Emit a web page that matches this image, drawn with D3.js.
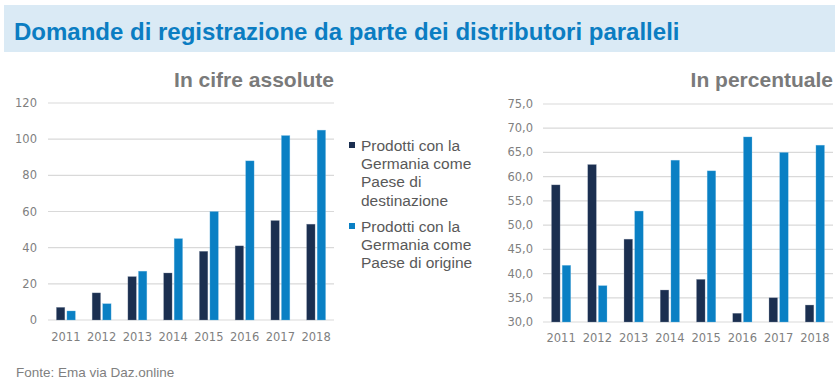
<!DOCTYPE html>
<html>
<head>
<meta charset="utf-8">
<script src="https://cdn.jsdelivr.net/npm/d3@7"></script>
<style>
  body { margin: 0; background: #fff; }
  svg { display: block; }
</style>
</head>
<body>
<div id="chart"></div>
<script>
'use strict';

// Data
var years = ['2011', '2012', '2013', '2014', '2015', '2016', '2017', '2018'];
var seriesNames = ['Prodotti con la Germania come Paese di destinazione',
                   'Prodotti con la Germania come Paese di origine'];
var absDestinazione = [7, 15, 24, 26, 38, 41, 55, 53];
var absOrigine = [5, 9, 27, 45, 60, 88, 102, 105];
var pctDestinazione = [58.3, 62.5, 47.1, 36.6, 38.8, 31.8, 35.0, 33.5];
var pctOrigine = [41.7, 37.5, 52.9, 63.4, 61.2, 68.2, 65.0, 66.5];
var absTicks = [0, 20, 40, 60, 80, 100, 120];
var pctTicks = [30, 35, 40, 45, 50, 55, 60, 65, 70, 75];

var colors = ['#1b2f50', '#0a80c4'];
var W = 840, H = 384;

var itLocale = d3.formatLocale({decimal: ',', thousands: '.', grouping: [3], currency: ['€', '']});
var fmtPct = itLocale.format('.1f');

var svg = d3.select('#chart').append('svg')
  .attr('width', W).attr('height', H)
  .style('font-family', '"Liberation Sans", Arial, sans-serif');

// Header band
svg.append('rect')
  .attr('x', 4).attr('y', 5).attr('width', 831).attr('height', 47)
  .attr('fill', '#daeaf5');

svg.append('text')
  .attr('x', 14).attr('y', 39.5)
  .attr('fill', '#0b7dc2')
  .style('font-size', '24px').style('font-weight', 'bold')
  .text('Domande di registrazione da parte dei distributori paralleli');

// Generic grouped bar panel
function panel(opts) {
  var x = d3.scaleBand().domain(years)
    .range([opts.x0, opts.x1])
    .paddingInner(0.47).paddingOuter(0.235);
  var xs = d3.scaleBand().domain([0, 1])
    .range([0, x.bandwidth()])
    .paddingInner(0.2);
  var y = d3.scaleLinear().domain(opts.domain).range([opts.yBottom, opts.yTop]);

  var g = svg.append('g');

  // gridlines
  g.selectAll('line.grid').data(opts.ticks).enter().append('line')
    .attr('class', 'grid')
    .attr('x1', opts.x0).attr('x2', opts.x1)
    .attr('y1', function(d){ return y(d) }).attr('y2', function(d){ return y(d) })
    .attr('stroke', '#d9d9d9').attr('stroke-width', 1.2);

  // y labels
  g.selectAll('text.ylab').data(opts.ticks).enter().append('text')
    .attr('class', 'ylab')
    .attr('x', opts.labelX)
    .attr('y', function(d){ return y(d) })
    .attr('dy', '0.35em')
    .attr('text-anchor', 'end')
    .attr('fill', '#7f7f7f')
    .style('font-family', '"DejaVu Sans", Verdana, sans-serif')
    .style('font-size', '11.5px')
    .text(opts.format);

  // x labels
  var xAxis = d3.axisBottom(x).tickSize(0).tickPadding(0);
  var ax = g.append('g')
    .attr('transform', 'translate(0,' + opts.xLabelY + ')')
    .call(xAxis);
  ax.select('.domain').remove();
  ax.selectAll('text')
    .attr('fill', '#7f7f7f')
    .attr('dy', 0).attr('y', 0)
    .style('font-family', '"DejaVu Sans", Verdana, sans-serif')
    .style('font-size', '11.5px');

  // bars
  [opts.a, opts.b].forEach(function(values, si){
    g.selectAll('rect.s' + si).data(values).enter().append('rect')
      .attr('class', 's' + si)
      .attr('x', function(d, i){ return x(years[i]) + xs(si) })
      .attr('width', xs.bandwidth())
      .attr('y', function(d){ return y(d) })
      .attr('height', function(d){ return y(opts.domain[0]) - y(d) })
      .attr('fill', colors[si])
      .attr('stroke', si === 0 ? '#8a97ab' : '#7cc0e6')
      .attr('stroke-width', 0.5)
      .attr('stroke-opacity', 0.6);
  });

  // title
  svg.append('text')
    .attr('x', opts.x1).attr('y', 87)
    .attr('text-anchor', 'end')
    .attr('fill', '#7a7a7a')
    .style('font-size', '21px').style('font-weight', 'bold')
    .text(opts.title);
}

panel({
  x0: 48, x1: 334, yTop: 103, yBottom: 320,
  domain: [0, 120], ticks: absTicks, labelX: 37, xLabelY: 341,
  format: function(d){ return d },
  a: absDestinazione, b: absOrigine,
  title: 'In cifre assolute'
});

panel({
  x0: 543, x1: 833, yTop: 104, yBottom: 322,
  domain: [30, 75], ticks: pctTicks, labelX: 533, xLabelY: 342,
  format: fmtPct,
  a: pctDestinazione, b: pctOrigine,
  title: 'In percentuale'
});

// Legend
var legendLines = [
  ['Prodotti con la', 'Germania come', 'Paese di', 'destinazione'],
  ['Prodotti con la', 'Germania come', 'Paese di origine']
];
var legendTop = [151, 232];
var legend = svg.append('g');
legendLines.forEach(function(lines, si){
  legend.append('rect')
    .attr('x', 349).attr('y', legendTop[si] - 9)
    .attr('width', 6).attr('height', 6)
    .attr('fill', colors[si]);
  var t = legend.append('text')
    .attr('x', 361).attr('y', legendTop[si])
    .attr('fill', '#595959')
    .style('font-size', '15.5px');
  t.append('title').text(seriesNames[si]);
  lines.forEach(function(l, li){
    t.append('tspan').attr('x', 361).attr('dy', li === 0 ? 0 : 18.2).text(l);
  });
});

// Source
svg.append('text')
  .attr('x', 16).attr('y', 377)
  .attr('fill', '#7f7f7f')
  .style('font-size', '13.5px')
  .text('Fonte: Ema via Daz.online');
</script>
</body>
</html>
